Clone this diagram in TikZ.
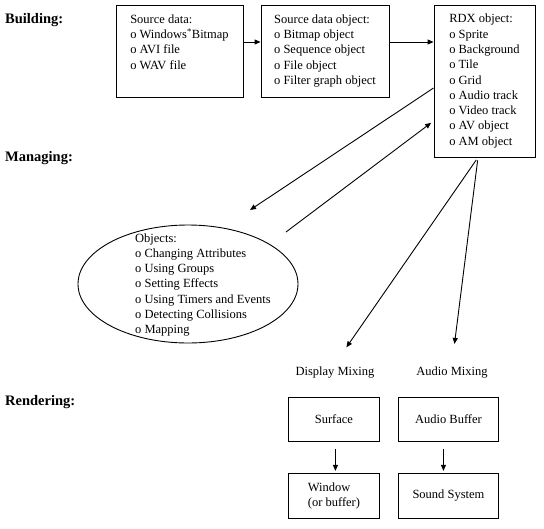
\documentclass[tikz,border=0pt]{standalone}
\usepackage{fontspec}
\setmainfont{Liberation Serif}
\usepackage{tikz}
\usetikzlibrary{arrows.meta, positioning, shapes.geometric, calc}

\begin{document}
\begin{tikzpicture}[
    x=1pt, y=-1pt,
    txt/.style={font=\fontsize{12.5}{15.3}\selectfont, align=left},
    box/.style={txt, draw, line width=0.9pt, inner sep=2pt},
    stage/.style={font=\fontsize{14.5}{17}\selectfont\bfseries, anchor=west, inner sep=0pt},
    flow/.style={-{Triangle[length=6pt, width=5pt]}, line width=0.9pt}
]
\useasboundingbox (0,0) rectangle (544,528);

% Stage labels
\node[stage] (building) at (5,20) {Building:};
\node[stage] (managing) at (5,158) {Managing:};
\node[stage] (rendering) at (5,402) {Rendering:};

% Building row
\node[box, minimum width=127pt, minimum height=92pt, text depth=18pt] (src) at (179.5,51) {%
    Source data:\\
    o Windows\textsuperscript{*}Bitmap\\
    o AVI file\\
    o WAV file};
\node[box, minimum width=128pt, minimum height=92pt] (sdo) at (325,51) {%
    Source data object:\\
    o Bitmap object\\
    o Sequence object\\
    o File object\\
    o Filter graph object};
\node[box, minimum width=101pt, minimum height=152pt] (rdx) at (484.5,81) {%
    RDX object:\\
    o Sprite\\
    o Background\\
    o Tile\\
    o Grid\\
    o Audio track\\
    o Video track\\
    o AV object\\
    o AM object};

% Managing
\node[ellipse, draw, line width=0.9pt, minimum width=220pt, minimum height=118pt,
      label={[txt, anchor=center, xshift=15pt, yshift=-1pt]center:{%
        Objects:\\
        o Changing Attributes\\
        o Using Groups\\
        o Setting Effects\\
        o Using Timers and Events\\
        o Detecting Collisions\\
        o Mapping}}] (objs) at (188,284) {};
\coordinate (objin) at (250,210);
\coordinate (objout) at (286,232);

% Rendering
\node[txt] (dmix) at (335,373) {Display Mixing};
\node[txt] (amix) at (452,373) {Audio Mixing};
\node[box, minimum width=91pt, minimum height=44pt, anchor=north west] (surf) at (288,397) {Surface};
\node[box, minimum width=100pt, minimum height=44pt, anchor=north west] (abuf) at (398,397) {Audio Buffer};
\node[box, minimum width=91pt, minimum height=45pt, below=31pt of surf] (win) {Window\\[-1pt](or buffer)};
\node[box, minimum width=100pt, minimum height=45pt, below=31pt of abuf] (snd) {Sound System};

% Connectors
\draw[flow] ([yshift=9pt]src.east) -- ([yshift=9pt]sdo.west);
\draw[flow] ([yshift=9pt]sdo.east) -- ([yshift=39pt]rdx.west);
\draw[flow] ([yshift=-7pt]rdx.west) -- (objin);
\draw[flow, shorten >=3pt] (objout) -- ([yshift=-40pt]rdx.west);
\draw[flow, shorten <=3pt, shorten >=20pt] ([xshift=-6.5pt]rdx.south) -- (dmix.north);
\draw[flow, shorten <=3pt, shorten >=20pt] ([xshift=-6.5pt]rdx.south) -- (amix.north);
\draw[flow, shorten <=7pt, shorten >=2pt] ([xshift=1.5pt]surf.south) -- ([xshift=1.5pt]win.north);
\draw[flow, shorten <=7pt, shorten >=2pt] ([xshift=-5pt]abuf.south) -- ([xshift=-5pt]snd.north);
\end{tikzpicture}
\end{document}
